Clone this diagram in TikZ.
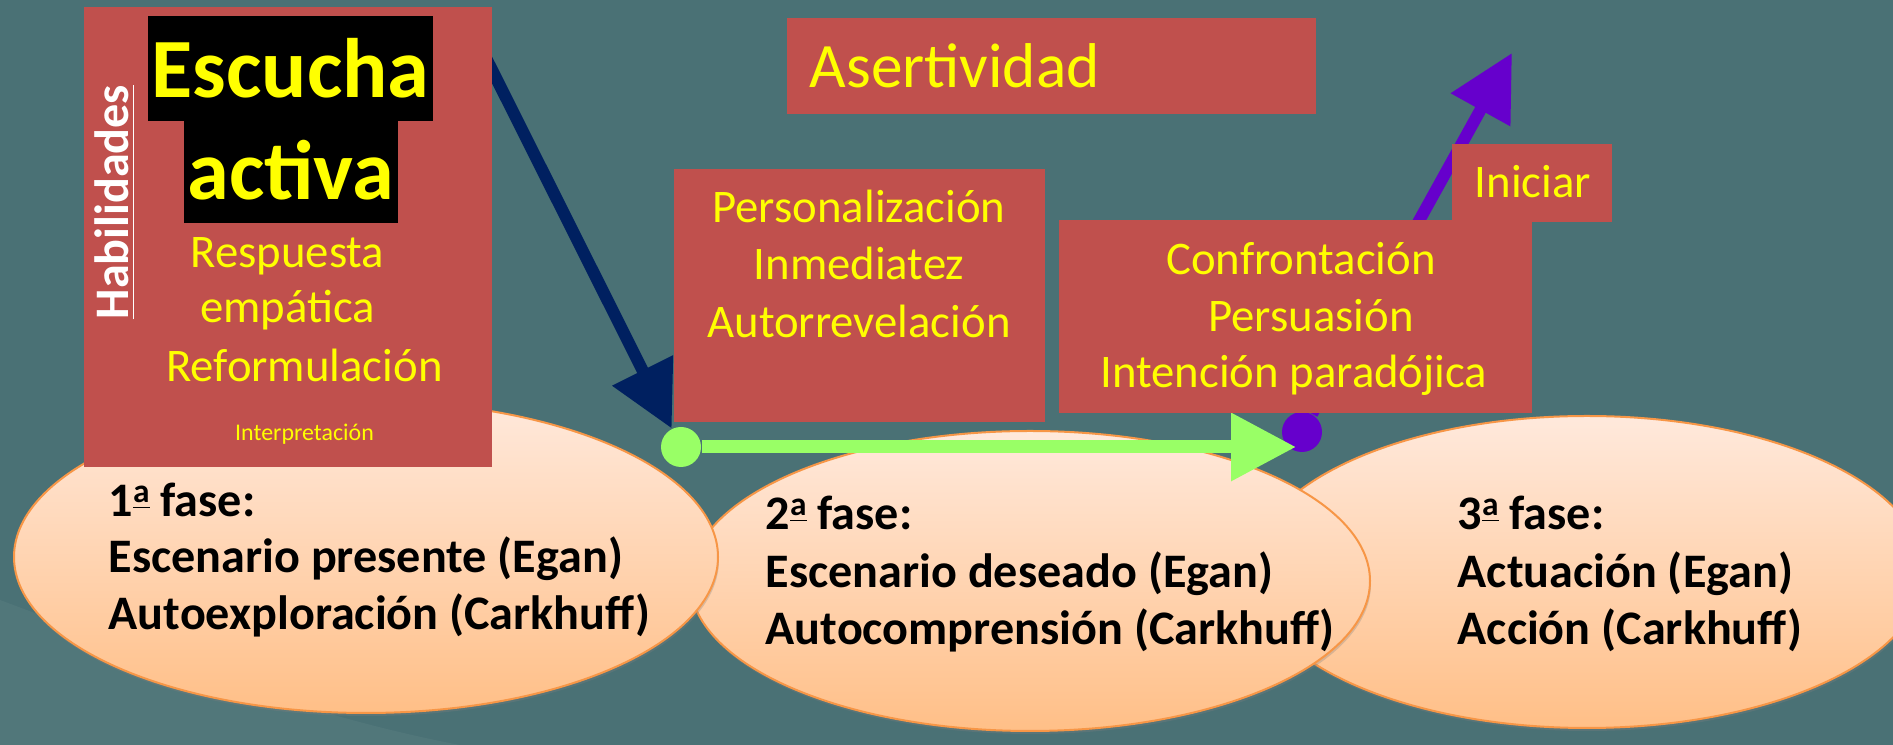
\documentclass[tikz,border=0pt]{standalone}
\usepackage{fontspec}
\setmainfont{Carlito}
\usetikzlibrary{arrows.meta,shapes.geometric,shadows}

\definecolor{bgteal}{HTML}{4A7175}
\definecolor{boxred}{HTML}{C0504D}
\definecolor{skillyellow}{HTML}{FFFF00}
\definecolor{ovaltop}{HTML}{FFE9DC}
\definecolor{ovalbottom}{HTML}{FFBF87}
\definecolor{ovalline}{HTML}{F79646}
\definecolor{arrownavy}{HTML}{002060}
\definecolor{arrowgreen}{HTML}{99FF66}
\definecolor{arrowpurple}{HTML}{6600CC}

% underlined feminine ordinal, as in the slide font
\newcommand{\ordfem}{\raisebox{0.30em}{\fontsize{9.5}{10}\selectfont\underline{a}}}

\tikzset{
	faseoval/.style={ellipse, draw=ovalline, line width=0.02cm, top color=ovaltop, bottom color=ovalbottom, inner sep=0pt,
		drop shadow={shadow xshift=0.01cm, shadow yshift=-0.03cm, opacity=0.3}},
	fasetext/.style={anchor=base west, inner sep=0pt, text=black, font=\fontsize{13.7}{16}\selectfont\bfseries},
	redbox/.style={rectangle, fill=boxred, inner sep=0pt},
	skilltext/.style={anchor=base, inner sep=0pt, text=skillyellow, font=\fontsize{13.3}{16}\selectfont},
	hilite/.style={anchor=base west, fill=black, text=skillyellow, font=\fontsize{24}{28}\selectfont\bfseries,
		inner xsep=0.04cm, inner ysep=0.23cm, text height=0.59cm, text depth=0cm},
	dotnode/.style={circle, inner sep=0pt, minimum size=0.40cm},
	thickarrow/.style={line width=0.12cm, -{Triangle[length=0.65cm,width=0.65cm]}}
}

\begin{document}
\begin{tikzpicture}
	\useasboundingbox (0,0) rectangle (18.93,7.45);
	\clip (0,0) rectangle (18.93,7.45);
	\fill[bgteal] (0,0) rectangle (18.93,7.45);
	% lighter streak in the lower left corner
	\fill[white, opacity=0.045] (0,0) -- (0,1.45) .. controls (1.2,1.0) and (3.0,0.3) .. (4.6,0) -- cycle;

	% Phases, from back to front
	\node[faseoval, minimum width=6.74cm, minimum height=3.12cm] (fase3) at (15.87,1.73) {};
	\node[faseoval, minimum width=6.80cm, minimum height=3.00cm] (fase2) at (10.30,1.64) {};
	\node[faseoval, minimum width=7.04cm, minimum height=3.12cm] (fase1) at (3.66,1.88) {};

	\node[fasetext] (fase1a) at (1.08,2.28) {1\ordfem{} fase:};
	\node[fasetext] (fase1b) at (1.08,1.72) {Escenario presente (Egan)};
	\node[fasetext] (fase1c) at (1.08,1.15) {Autoexploración (Carkhuff)};

	\node[fasetext] (fase2a) at (7.65,2.15) {2\ordfem{} fase:};
	\node[fasetext] (fase2b) at (7.65,1.57) {Escenario deseado (Egan)};
	\node[fasetext] (fase2c) at (7.65,1.00) {Autocomprensión (Carkhuff)};

	\node[fasetext] (fase3a) at (14.57,2.15) {3\ordfem{} fase:};
	\node[fasetext] (fase3b) at (14.57,1.57) {Actuación (Egan)};
	\node[fasetext] (fase3c) at (14.57,1.00) {Acción (Carkhuff)};

	% Arrows between the skill groups
	\coordinate (navystart) at (4.77,7.05);
	\coordinate (greentip) at (12.96,2.98);
	\coordinate (purpletip) at (15.12,6.92);
	\node[dotnode, fill=arrowgreen] (greendot) at (6.81,2.98) {};
	\node[dotnode, fill=arrowpurple] (purpledot) at (13.02,3.13) {};
	\draw[thickarrow, arrownavy] (navystart) -- (greendot);
	\draw[thickarrow, arrowgreen, line width=0.13cm] (greendot) -- (greentip);
	\draw[thickarrow, arrowpurple] (purpledot) -- (purpletip);

	% Skill boxes
	\node[redbox, minimum width=4.08cm, minimum height=4.60cm] (habbox) at (2.88,5.08) {};
	\node[redbox, minimum width=5.29cm, minimum height=0.96cm] (asertbox) at (10.515,6.79) {};
	\node[redbox, minimum width=3.71cm, minimum height=2.53cm] (persbox) at (8.595,4.495) {};
	\node[redbox, minimum width=4.73cm, minimum height=1.93cm] (confbox) at (12.955,4.285) {};
	\node[redbox, minimum width=1.60cm, minimum height=0.78cm] (inibox) at (15.32,5.62) {};

	% First phase skills
	\node[hilite] (escucha) at (1.47,6.47) {Escucha\ };
	\node[hilite] (activa) at (1.83,5.45) {activa\ };
	\node[anchor=base west, rotate=90, inner sep=0pt, text=white, font=\fontsize{13.7}{16}\selectfont\bfseries] (habtitle) at (1.28,4.25) {\underline{Habilidades}};
	\node[skilltext] (respuesta) at (2.875,4.77) {Respuesta};
	\node[skilltext] (empatica) at (2.875,4.22) {empática};
	\node[skilltext] (reform) at (3.045,3.63) {Reformulación};
	\node[skilltext, font=\fontsize{6.8}{8}\selectfont] (interp) at (3.045,3.04) {Interpretación};

	% Second and third phase skills
	\node[skilltext, anchor=base west, font=\fontsize{18}{22}\selectfont] (asert) at (8.09,6.57) {Asertividad};
	\node[skilltext] (person) at (8.59,5.22) {Personalización};
	\node[skilltext] (inmed) at (8.59,4.65) {Inmediatez};
	\node[skilltext] (autorrev) at (8.59,4.07) {Autorrevelación};
	\node[skilltext] (confront) at (13.01,4.70) {Confrontación};
	\node[skilltext] (persuas) at (13.11,4.13) {Persuasión};
	\node[skilltext] (intenc) at (12.94,3.57) {Intención paradójica};
	\node[skilltext, anchor=base west] (iniciar) at (14.74,5.47) {Iniciar};
\end{tikzpicture}
\end{document}
